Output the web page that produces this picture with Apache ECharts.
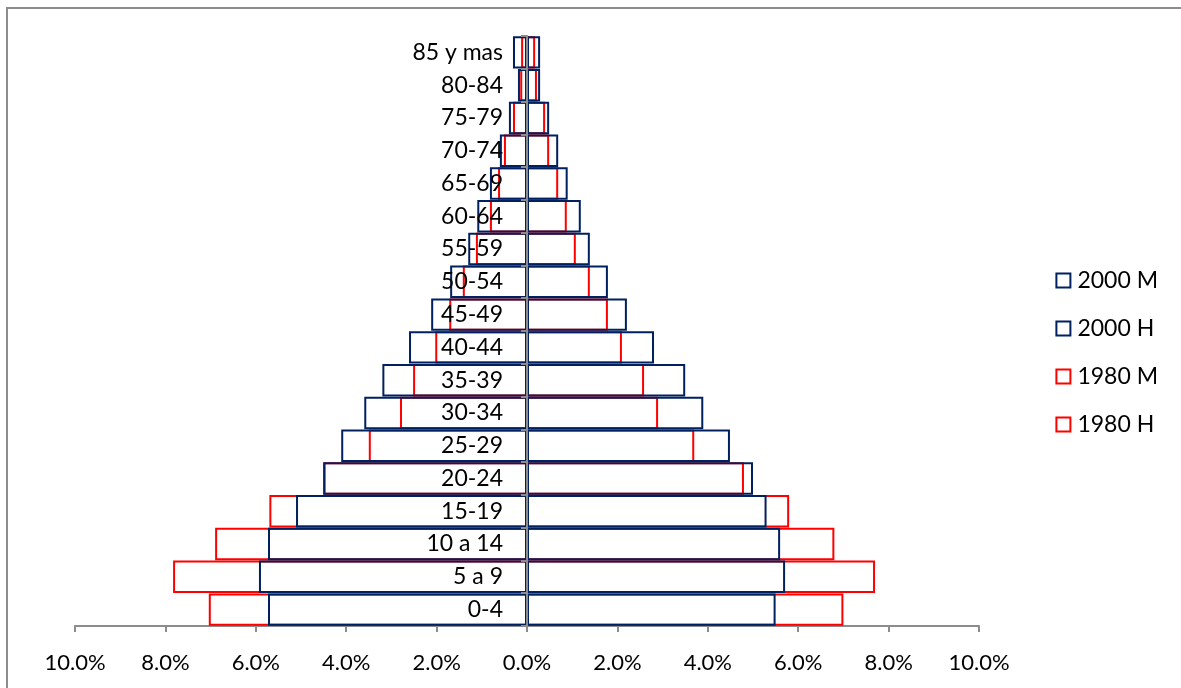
<!DOCTYPE html>
<html>
<head>
<meta charset="utf-8">
<script src="https://cdn.jsdelivr.net/npm/echarts@6/dist/echarts.min.js"></script>
<style>
    html, body { margin: 0; padding: 0; background: #fff; }
    #pyramid { width: 1181px; height: 688px; }
</style>
</head>
<body>
<div id="pyramid"></div>
<script>
// grupos de edad, de abajo hacia arriba
const age_groups = ['0-4', '5 a 9', '10 a 14', '15-19', '20-24', '25-29', '30-34', '35-39', '40-44',
    '45-49', '50-54', '55-59', '60-64', '65-69', '70-74', '75-79', '80-84', '85 y mas']
// porcentajes
const m_2000 = [5.73, 5.93, 5.73, 5.11, 4.51, 4.11, 3.6, 3.2, 2.61, 2.12, 1.7, 1.3, 1.1, 0.82, 0.6, 0.4, 0.2, 0.31]
const h_2000 = [5.5, 5.71, 5.6, 5.3, 5.0, 4.49, 3.9, 3.5, 2.81, 2.21, 1.79, 1.39, 1.19, 0.9, 0.69, 0.49, 0.29, 0.29]
const m_1980 = [7.04, 7.83, 6.9, 5.7, 4.5, 3.5, 2.81, 2.52, 2.03, 1.72, 1.42, 1.13, 0.82, 0.64, 0.51, 0.31, 0.15, 0.13]
const h_1980 = [7.0, 7.7, 6.8, 5.8, 4.8, 3.7, 2.9, 2.59, 2.1, 1.79, 1.39, 1.08, 0.88, 0.69, 0.49, 0.4, 0.22, 0.18]
const x_ticks = [-10, -8, -6, -4, -2, 0, 2, 4, 6, 8, 10]

const navy = '#002060'
const red = '#ff0000'
const font = 'Lato, "Open Sans", sans-serif'

let neg = (arr) => arr.map(v => -v)

let bar_series = (name, data, color, z) => {
    return {
        name: name,
        type: 'bar',
        data: data,
        z: z,
        barGap: '-100%',
        barCategoryGap: '1%',
        itemStyle: {
            color: 'rgba(255,255,255,0)',
            borderColor: color,
            borderWidth: 2
        },
        emphasis: { disabled: true }
    }
}

let chart = echarts.init(document.getElementById('pyramid'))
let option = {
    animation: false,
    backgroundColor: '#fff',
    textStyle: { fontFamily: font },
    graphic: [{
        type: 'rect',
        shape: { x: 7, y: 8, width: 1200, height: 700 },
        style: { fill: 'none', stroke: '#8c8c8c', lineWidth: 2 },
        silent: true
    }],
    grid: { left: 75, right: 202, top: 36, bottom: 62, outerBoundsMode: 'none' },
    legend: {
        orient: 'vertical',
        right: 18,
        top: 264,
        itemWidth: 14,
        itemHeight: 14,
        itemGap: 25,
        icon: 'rect',
        data: ['2000 M', '2000 H', '1980 M', '1980 H'],
        textStyle: { fontSize: 23, color: '#000', fontFamily: font, padding: [0, 0, 0, 2] }
    },
    xAxis: {
        type: 'value',
        min: x_ticks[0],
        max: x_ticks[x_ticks.length - 1],
        interval: 2,
        splitLine: { show: false },
        axisLine: { show: true, onZero: false, lineStyle: { color: '#8c8c8c', width: 2 } },
        axisTick: { show: true, length: 6, lineStyle: { color: '#8c8c8c', width: 2 } },
        axisLabel: {
            fontSize: 22,
            color: '#000',
            margin: 26,
            formatter: (v) => Math.abs(v).toFixed(1) + '%'
        }
    },
    yAxis: {
        type: 'category',
        data: age_groups,
        z: 10,
        // eje vertical en el 0%
        offset: -452,
        axisLine: { show: true, onZero: false, lineStyle: { color: '#8c8c8c', width: 2 } },
        axisTick: { show: true, length: 6, lineStyle: { color: '#8c8c8c', width: 2 } },
        axisLabel: { fontSize: 23, color: '#000', margin: 24 }
    },
    series: [
        bar_series('1980 M', neg(m_1980), red, 2),
        bar_series('1980 H', h_1980, red, 2),
        bar_series('2000 M', neg(m_2000), navy, 3),
        bar_series('2000 H', h_2000, navy, 3)
    ]
}
chart.setOption(option)
</script>
</body>
</html>
